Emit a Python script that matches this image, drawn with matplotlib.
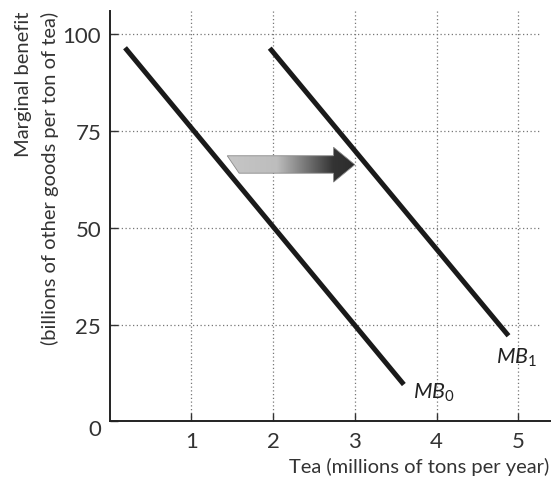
import numpy as np
import matplotlib
matplotlib.use("Agg")
import matplotlib.pyplot as plt
from matplotlib.patches import Polygon
from matplotlib.colors import LinearSegmentedColormap
import matplotlib.transforms as mtransforms

# ---- data ----
mb0_x = [0.19, 3.60]
mb0_y = [96.5, 9.5]
mb1_x = [1.96, 4.88]
mb1_y = [96.4, 22.1]
x_ticks = [1, 2, 3, 4, 5]
y_ticks = [0, 25, 50, 75, 100]
x_label = "Tea (millions of tons per year)"
y_label1 = "Marginal benefit"
y_label2 = "(billions of other goods per ton of tea)"

plt.rcParams['font.family'] = ['Lato', 'DejaVu Sans']
plt.rcParams['mathtext.fontset'] = 'custom'
plt.rcParams['mathtext.it'] = 'Lato:italic'
plt.rcParams['mathtext.rm'] = 'Lato'

fig = plt.figure(figsize=(5.51, 4.81), dpi=100)
L, B = 109.5 / 551, (481 - 422.3) / 481
W, H = (551 - 109.5) / 551, (422.3 - 12) / 481
ax = fig.add_axes([L, B, W, H])

xmax, ymax = 5.4, 106

# grid
for xv in x_ticks:
    ax.plot([xv, xv], [0, ymax], linestyle=(0, (1, 2)), color='#777777', lw=0.9, zorder=1)
for yv in y_ticks[1:]:
    ax.plot([0, 5.25], [yv, yv], linestyle=(0, (1, 2)), color='#777777', lw=0.9, zorder=1)

# lines
ax.plot(mb0_x, mb0_y, color='#1a1a1a', lw=3.6, solid_capstyle='butt', zorder=3)
ax.plot(mb1_x, mb1_y, color='#1a1a1a', lw=3.6, solid_capstyle='butt', zorder=3)

# gradient arrow
verts = [(1.44, 68.6), (2.74, 68.6), (2.74, 70.8), (3.0, 66.3),
         (2.74, 61.8), (2.74, 64.1), (1.585, 64.1)]
poly = Polygon(verts, closed=True, facecolor='none', edgecolor='#8a8a8a', lw=0.6, zorder=5)
ax.add_patch(poly)
cmap = LinearSegmentedColormap.from_list('g', [(0, '#c6c6c6'), (0.39, '#bdbdbd'),
                                               (0.83, '#343434'), (1.0, '#2b2b2b')])
grad = np.linspace(0, 1, 256).reshape(1, -1)
im = ax.imshow(grad, cmap=cmap, extent=[1.44, 3.0, 61.8, 70.8], aspect='auto',
               origin='lower', zorder=4, interpolation='bilinear')
im.set_clip_path(poly)

ax.set_xlim(0, xmax)
ax.set_ylim(0, ymax)

# spines
for s in ['top', 'right']:
    ax.spines[s].set_visible(False)
for s in ['left', 'bottom']:
    ax.spines[s].set_linewidth(1.4)
    ax.spines[s].set_color('#222222')

ax.set_xticks(x_ticks)
ax.set_yticks(y_ticks)
ax.set_xticklabels([str(v) for v in x_ticks])
ax.set_yticklabels([str(v) for v in y_ticks])
ax.tick_params(direction='in', length=6, width=1, colors='#333333', labelsize=16, pad=6)
ax.tick_params(axis='x', pad=7)
# shift "0" label down slightly
lab0 = ax.get_yticklabels()[0]
lab0.set_transform(lab0.get_transform() + mtransforms.ScaledTranslation(0, -6/100, fig.dpi_scale_trans))

# labels
ax.text(3.71, 6.2, r'$MB_0$', fontsize=15.5, color='#222222', ha='left', va='baseline')
ax.text(4.73, 15.1, r'$MB_1$', fontsize=15.5, color='#222222', ha='left', va='baseline')

fig.text(549 / 551, 1 - 467 / 481, x_label, ha='right', va='center', fontsize=14.5, color='#333333')
fig.text(24 / 551, 1 - 12 / 481, y_label1, ha='center', va='top', rotation=90, fontsize=14.5, color='#333333')
fig.text(50 / 551, 1 - 12 / 481, y_label2, ha='center', va='top', rotation=90, fontsize=14.5, color='#333333')

fig.savefig('out.png', dpi=100)
